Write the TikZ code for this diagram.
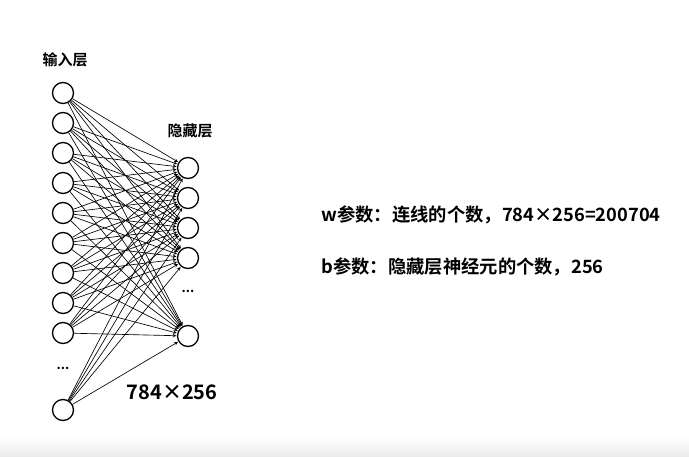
\documentclass[tikz,border=0pt]{standalone}
\usepackage{fontspec}
\newfontfamily\cjk{Noto Sans CJK SC}[BoldFont={* Bold}]
\begin{document}
\begin{tikzpicture}[x=1pt,y=-1pt]
  \tikzstyle{neuron}=[circle, draw, line width=1.3pt, minimum size=21pt, inner sep=0pt, fill=white]
  \tikzstyle{conn}=[->, >=stealth, line width=0.65pt, shorten >=0.5pt]
  \tikzstyle{label}=[font=\cjk\bfseries\fontsize{15}{18}\selectfont]
  \tikzstyle{dots}=[font=\cjk\bfseries\fontsize{13}{15}\selectfont]
  \tikzstyle{info}=[font=\cjk\bfseries\fontsize{18.3}{22}\selectfont, anchor=west]

  \useasboundingbox (0,0) rectangle (689,457);
  \shade[top color=white, bottom color=black!8] (0,436) rectangle (689,457);

  \node[neuron] (i1)  at (63, 93)  {};
  \node[neuron] (i2)  at (63, 123) {};
  \node[neuron] (i3)  at (63, 153) {};
  \node[neuron] (i4)  at (63, 183) {};
  \node[neuron] (i5)  at (63, 213) {};
  \node[neuron] (i6)  at (63, 243) {};
  \node[neuron] (i7)  at (63, 273) {};
  \node[neuron] (i8)  at (63, 303) {};
  \node[neuron] (i9)  at (63, 333) {};
  \node[dots]   (idots) at (63, 368) {...};
  \node[neuron] (i10) at (63, 410) {};

  \node[neuron] (h1) at (188, 168) {};
  \node[neuron] (h2) at (188, 198) {};
  \node[neuron] (h3) at (188, 228) {};
  \node[neuron] (h4) at (188, 258) {};
  \node[dots]   (hdots) at (188, 291) {...};
  \node[neuron] (h5) at (188, 336) {};

  \path[conn] (i1)  edge (h1) edge (h2) edge (h3) edge (h4) edge (h5);
  \path[conn] (i2)  edge (h1) edge (h2) edge (h3) edge (h4) edge (h5);
  \path[conn] (i3)  edge (h1) edge (h2) edge (h3) edge (h4) edge (h5);
  \path[conn] (i4)  edge (h1) edge (h2) edge (h3) edge (h4) edge (h5);
  \path[conn] (i5)  edge (h1) edge (h2) edge (h3) edge (h4) edge (h5);
  \path[conn] (i6)  edge (h1) edge (h2) edge (h3) edge (h4) edge (h5);
  \path[conn] (i7)  edge (h1) edge (h2) edge (h3) edge (h4) edge (h5);
  \path[conn] (i8)  edge (h1) edge (h2) edge (h3) edge (h4) edge (h5);
  \path[conn] (i9)  edge (h1) edge (h2) edge (h3) edge (h4) edge (h5);
  \path[conn] (i10) edge (h1) edge (h2) edge (h3) edge (h4) edge (h5);

  \node[label] (inlabel)  at (65, 60)  {输入层};
  \node[label] (hidlabel) at (190, 131) {隐藏层};
  \node[font=\cjk\bfseries\fontsize{20}{24}\selectfont] (count) at (172, 392) {784×256};

  \node[info] (wtext) at (318, 215) {w参数：连线的个数，784×256=200704};
  \node[info] (btext) at (318, 267) {b参数：隐藏层神经元的个数，256};

\end{tikzpicture}
\end{document}
